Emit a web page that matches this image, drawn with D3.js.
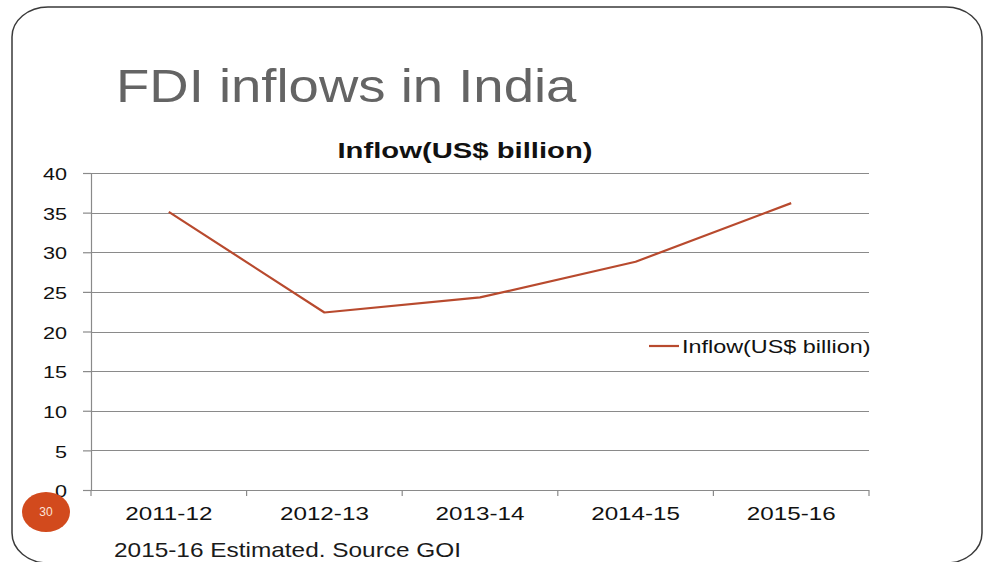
<!DOCTYPE html>
<html>
<head>
<meta charset="utf-8">
<script src="https://cdn.jsdelivr.net/npm/d3@7"></script>
<style>
  html, body { margin: 0; padding: 0; background: #fff; }
  svg { display: block; font-family: "Liberation Sans", Arial, sans-serif; }
</style>
</head>
<body>
<svg id="chart" width="985" height="562"></svg>
<script>
// ---- data ----
const categories = ["2011-12", "2012-13", "2013-14", "2014-15", "2015-16"];
const inflow = [35.1, 22.4, 24.3, 28.8, 36.2];
const seriesName = "Inflow(US$ billion)";
const yTicks = [0, 5, 10, 15, 20, 25, 30, 35, 40];
const slideTitle = "FDI inflows in India";
const footnote = "2015-16 Estimated. Source GOI";
const pageNumber = "30";

const svg = d3.select("#chart");
const lineColor = "#b84a2e";
const gridColor = "#8a8a8a";

// slide frame
svg.append("rect")
  .attr("x", 12).attr("y", 7).attr("width", 970).attr("height", 556)
  .attr("rx", 36).attr("ry", 30)
  .attr("fill", "#fff").attr("stroke", "#3a3a3a").attr("stroke-width", 1.5);

function stretchText(sel, x, y, sx) {
  sel.attr("x", 0).attr("y", 0)
     .attr("transform", `translate(${x},${y}) scale(${sx},1)`);
  return sel;
}

// slide title
stretchText(svg.append("text").text(slideTitle)
  .attr("font-size", 47).attr("fill", "#646464"), 116, 102, 1.16);

// plot scales
const x = d3.scaleBand().domain(categories).range([91, 869]).padding(0);
const y = d3.scaleLinear().domain([0, 40]).range([490, 173]);

// gridlines
svg.append("g").selectAll("line").data(yTicks.filter(d => d !== 0)).join("line")
  .attr("x1", 91).attr("x2", 869)
  .attr("y1", d => Math.round(y(d)) + 0.5).attr("y2", d => Math.round(y(d)) + 0.5)
  .attr("stroke", gridColor).attr("stroke-width", 1.2);

// y axis
const yAxis = svg.append("g").attr("transform", "translate(91,0)")
  .call(d3.axisLeft(y).tickValues(yTicks).tickSize(8).tickPadding(0));
yAxis.select(".domain").attr("stroke", gridColor).attr("stroke-width", 1.2);
yAxis.selectAll(".tick line").attr("stroke", gridColor).attr("stroke-width", 1.2);
const sy = 1.35;
yAxis.selectAll(".tick text")
  .attr("font-size", 16).attr("fill", "#111").attr("font-family", "Liberation Sans, Arial, sans-serif")
  .attr("x", -24 / sy).attr("dy", "0.42em")
  .attr("transform", `scale(${sy},1)`);

// x axis
const xAxis = svg.append("g").attr("transform", "translate(0,490)")
  .call(d3.axisBottom(x).tickSize(0).tickPadding(0));
xAxis.select(".domain").remove();
svg.append("line").attr("x1", 91).attr("x2", 869).attr("y1", 490.5).attr("y2", 490.5)
  .attr("stroke", gridColor).attr("stroke-width", 1.2);
const boundaries = categories.map(c => x(c)).concat([x.range()[1]]);
svg.append("g").selectAll("line").data(boundaries).join("line")
  .attr("x1", d => d).attr("x2", d => d).attr("y1", 490).attr("y2", 496)
  .attr("stroke", gridColor).attr("stroke-width", 1.2);
const sxx = 1.31;
xAxis.selectAll(".tick text")
  .attr("font-size", 18.5).attr("fill", "#111").attr("font-family", "Liberation Sans, Arial, sans-serif")
  .attr("y", 30).attr("dy", 0)
  .attr("transform", `scale(${sxx},1)`);

// line
const line = d3.line()
  .x((d, i) => x(categories[i]) + x.bandwidth() / 2)
  .y(d => y(d));
svg.append("path").datum(inflow)
  .attr("d", line).attr("fill", "none")
  .attr("stroke", lineColor).attr("stroke-width", 2.2)
  .attr("stroke-linejoin", "round");

// chart title
stretchText(svg.append("text").text(seriesName)
  .attr("font-size", 22).attr("font-weight", "bold").attr("fill", "#111")
  .attr("text-anchor", "middle"), 465, 158, 1.33);

// legend
svg.append("line").attr("x1", 649).attr("x2", 679).attr("y1", 346).attr("y2", 346)
  .attr("stroke", lineColor).attr("stroke-width", 2.2);
stretchText(svg.append("text").text(seriesName)
  .attr("font-size", 18).attr("fill", "#111"), 682, 352.5, 1.3);

// page number badge
svg.append("ellipse").attr("cx", 46).attr("cy", 512).attr("rx", 24).attr("ry", 20)
  .attr("fill", "#d24a1d");
svg.append("text").text(pageNumber)
  .attr("x", 46).attr("y", 516).attr("text-anchor", "middle")
  .attr("font-size", 12).attr("fill", "#fbe3d8");

// footnote
stretchText(svg.append("text").text(footnote)
  .attr("font-size", 20).attr("fill", "#1a1a1a"), 114, 557, 1.22);
</script>
</body>
</html>
